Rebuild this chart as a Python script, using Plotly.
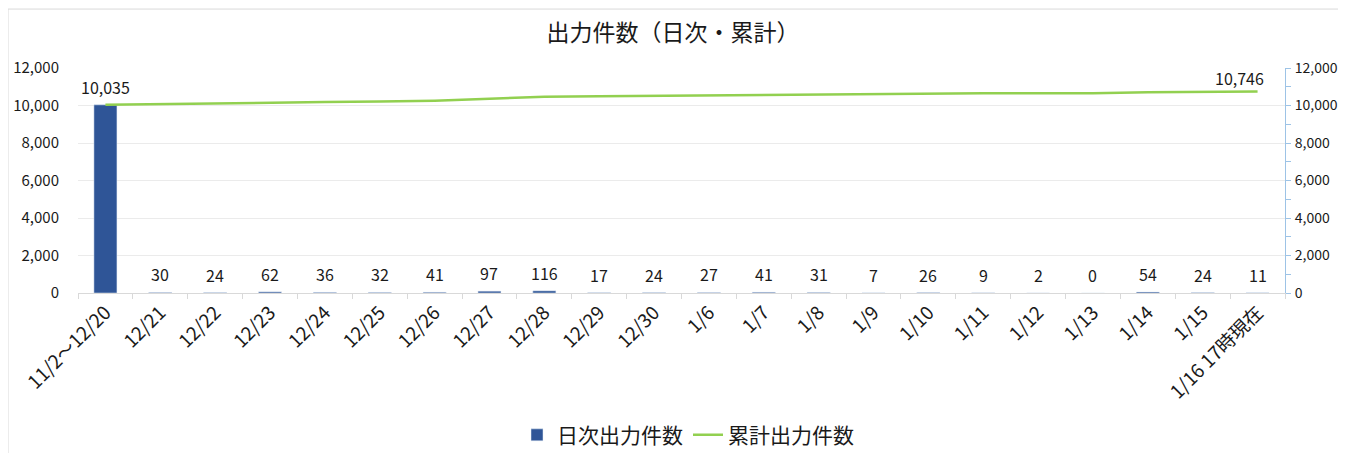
import plotly.graph_objects as go

categories = ["11/2～12/20", "12/21", "12/22", "12/23", "12/24", "12/25", "12/26", "12/27",
              "12/28", "12/29", "12/30", "1/6", "1/7", "1/8", "1/9", "1/10", "1/11", "1/12",
              "1/13", "1/14", "1/15", "1/16 17時現在"]
daily = [10035, 30, 24, 62, 36, 32, 41, 97, 116, 17, 24, 27, 41, 31, 7, 26, 9, 2, 0, 54, 24, 11]
cumulative = [10035, 10065, 10089, 10151, 10187, 10219, 10260, 10357, 10473, 10490, 10514,
              10541, 10582, 10613, 10620, 10646, 10655, 10657, 10657, 10711, 10735, 10746]
yticks = [0, 2000, 4000, 6000, 8000, 10000, 12000]

FONT = "Noto Sans CJK JP"
BAR = "#2F5597"
LINE = "#92D050"
TXT = "#1a1a1a"

fig = go.Figure()
fig.add_trace(go.Bar(x=categories, y=daily, name="日次出力件数", marker_color=BAR,
                     width=0.42, yaxis="y"))
fig.add_trace(go.Scatter(x=categories, y=cumulative, name="累計出力件数", mode="lines",
                         line=dict(color=LINE, width=2.5), yaxis="y2"))

annotations = []
for c, v in zip(categories, daily):
    annotations.append(dict(x=c, y=v, xref="x", yref="y", text=f"{v:,}", showarrow=False,
                            yanchor="bottom", yshift=4, font=dict(size=16, color=TXT)))
annotations.append(dict(x=categories[-1], y=cumulative[-1], xref="x", yref="y2",
                        text=f"{cumulative[-1]:,}", showarrow=False, xanchor="right",
                        xshift=8, yanchor="bottom", yshift=0,
                        font=dict(size=16, color=TXT)))

W = 1338
fig.update_layout(
    width=W, height=445,
    margin=dict(l=70, r=W - 1277, t=60, b=160, autoexpand=False),
    paper_bgcolor="white", plot_bgcolor="white",
    font=dict(family=FONT, size=15, color=TXT),
    title=dict(text="出力件数（日次・累計）", x=665 / W, xanchor="center", y=0.944,
               yanchor="middle", xref="container", yref="container",
               font=dict(size=23, color=TXT)),
    showlegend=True,
    legend=dict(orientation="h", x=680 / W, xanchor="center", xref="container",
                y=0.04, yanchor="middle", yref="container",
                font=dict(size=21), itemwidth=30, traceorder="normal"),
    bargap=0.58,
    xaxis=dict(type="category", tickangle=-45, tickfont=dict(size=19), automargin=False,
               showline=True, linecolor="#D9D9D9", linewidth=1,
               ticks="outside", tickson="boundaries", ticklen=5, tickcolor="#D9D9D9",
               showgrid=False),
    yaxis=dict(range=[0, 12000], tickvals=yticks, tickformat=",", showgrid=True,
               gridcolor="#EBEBEB", zeroline=False, showline=False, automargin=False,
               tickfont=dict(size=15), ticks="", ticklabelstandoff=18),
    yaxis2=dict(range=[0, 12000], tickvals=yticks, tickformat=",", overlaying="y", side="right",
                showgrid=False, zeroline=False, showline=True, linecolor="#9DC3E6",
                automargin=False,
                ticks="outside", ticklen=5, tickcolor="#9DC3E6", ticklabelstandoff=1,
                minor=dict(ticks="outside", dtick=1000, ticklen=5, tickcolor="#9DC3E6"),
                tickfont=dict(size=14)),
    annotations=annotations,
    shapes=[
        dict(type="line", xref="paper", yref="paper", x0=-0.058, x1=1.06, y0=1.262, y1=1.262,
             line=dict(color="#D9D9D9", width=1)),
        dict(type="line", xref="paper", yref="paper", x0=-0.058, x1=-0.058, y0=1.262, y1=-0.72,
             line=dict(color="#D9D9D9", width=1)),
    ],
)

fig.write_html("out.html")
